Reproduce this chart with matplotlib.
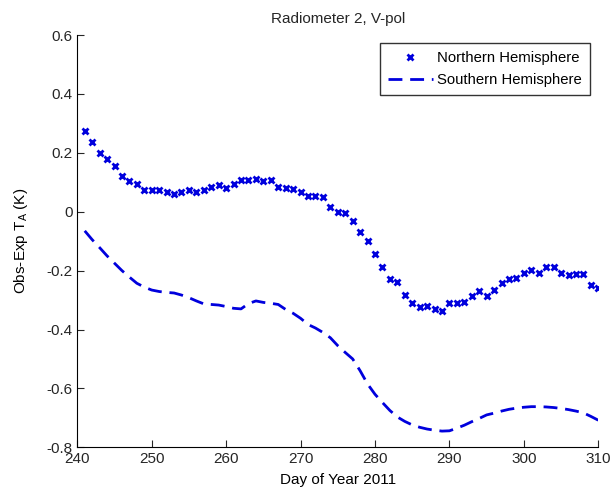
import numpy as np
import matplotlib.pyplot as plt
from matplotlib.ticker import FuncFormatter

plt.rcParams['font.family'] = ['Liberation Sans', 'DejaVu Sans']

# Tag des Jahres
days = np.arange(241, 311)

# Nordhalbkugel (Kreuze)
north = [0.274, 0.236, 0.200, 0.180, 0.155, 0.122, 0.105, 0.093, 0.073, 0.073,
         0.074, 0.068, 0.061, 0.066, 0.073, 0.066, 0.074, 0.083, 0.091, 0.082,
         0.094, 0.107, 0.107, 0.111, 0.105, 0.107, 0.085, 0.079, 0.077, 0.067,
         0.054, 0.054, 0.050, 0.016, 0.000, -0.003, -0.030, -0.069, -0.099, -0.144,
         -0.189, -0.229, -0.240, -0.282, -0.310, -0.324, -0.319, -0.331, -0.336, -0.310,
         -0.310, -0.307, -0.285, -0.269, -0.285, -0.265, -0.241, -0.229, -0.225, -0.209,
         -0.199, -0.207, -0.188, -0.188, -0.207, -0.216, -0.212, -0.212, -0.249, -0.259]

# Suedhalbkugel (gestrichelt)
south = [-0.065, -0.095, -0.122, -0.150, -0.175, -0.200, -0.222, -0.243, -0.256, -0.266,
         -0.271, -0.274, -0.276, -0.283, -0.292, -0.303, -0.313, -0.315, -0.317, -0.322,
         -0.328, -0.330, -0.312, -0.303, -0.308, -0.311, -0.315, -0.332, -0.345, -0.362,
         -0.383, -0.395, -0.410, -0.428, -0.455, -0.478, -0.500, -0.540, -0.585, -0.620,
         -0.648, -0.675, -0.697, -0.712, -0.724, -0.732, -0.738, -0.742, -0.745, -0.744,
         -0.735, -0.725, -0.713, -0.702, -0.690, -0.684, -0.677, -0.671, -0.667, -0.664,
         -0.662, -0.662, -0.663, -0.665, -0.668, -0.672, -0.677, -0.683, -0.695, -0.708]

fig = plt.figure(figsize=(6.12, 4.91), dpi=100)
ax = fig.add_axes([0.1263, 0.089, 0.8513, 0.8397])

ax.plot(days, north, 'x', color='#0000dd', markersize=5, markeredgewidth=2,
        label='Northern Hemisphere')
ax.plot(days, south, '--', color='#0000dd', linewidth=2, dashes=(5, 2.8),
        label='Southern Hemisphere')

ax.set_xlim(240, 310)
ax.set_ylim(-0.8, 0.6)
ax.set_xticks(np.arange(240, 311, 10))
ax.set_yticks(np.arange(-0.8, 0.61, 0.2))
ax.yaxis.set_major_formatter(FuncFormatter(lambda v, p: '0' if abs(v) < 1e-9 else '%g' % round(v, 1)))

ax.spines['top'].set_visible(False)
ax.spines['right'].set_visible(False)
ax.tick_params(direction='in', labelsize=11, colors='#262626', length=5)

ax.set_title('Radiometer 2, V-pol', fontsize=11, color='#262626', pad=9)
ax.set_xlabel('Day of Year 2011', fontsize=11, labelpad=5)
ax.set_ylabel('Obs-Exp T$_\\mathregular{A}$ (K)', fontsize=11, labelpad=12)

leg = ax.legend(loc='upper right', fontsize=10.7, fancybox=False, edgecolor='#333333',
                framealpha=1, borderaxespad=0.55, borderpad=0.55, labelspacing=0.5,
                handlelength=3.0, handletextpad=0.3)
leg.get_frame().set_linewidth(1)

fig.savefig('out.png', dpi=100)
